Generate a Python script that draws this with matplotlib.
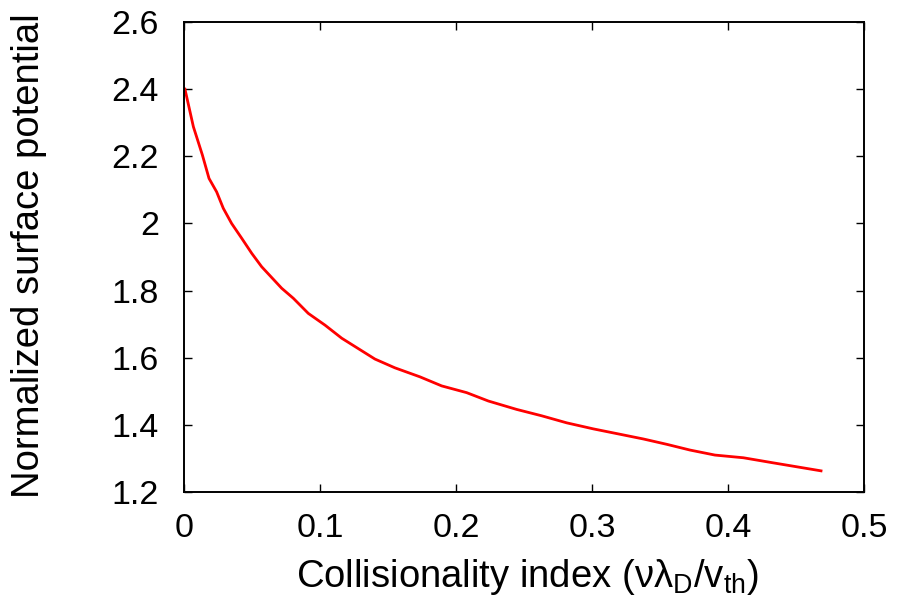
import matplotlib
matplotlib.use('Agg')
import matplotlib.pyplot as plt

plt.rcParams['font.family'] = ['Liberation Sans', 'DejaVu Sans']
plt.rcParams['mathtext.fontset'] = 'custom'
plt.rcParams['mathtext.rm'] = 'Liberation Sans'
plt.rcParams['mathtext.it'] = 'Liberation Sans'

# collisionality index vs normalized surface potential
collisionality = [0.0007, 0.0069, 0.0135, 0.0184, 0.024, 0.0289, 0.035, 0.0424,
                  0.0498, 0.0571, 0.0718, 0.0804, 0.0914, 0.1037, 0.116, 0.1404,
                  0.155, 0.1735, 0.1895, 0.2078, 0.2238, 0.2446, 0.263, 0.2814,
                  0.301, 0.3206, 0.3377, 0.355, 0.372, 0.3904, 0.4113, 0.433, 0.4684]
potential = [2.40, 2.288, 2.204, 2.134, 2.094, 2.045, 2.0, 1.956,
             1.911, 1.871, 1.807, 1.777, 1.732, 1.697, 1.658, 1.596,
             1.570, 1.543, 1.516, 1.496, 1.471, 1.446, 1.427, 1.406,
             1.388, 1.372, 1.358, 1.342, 1.325, 1.310, 1.302, 1.287, 1.263]

xticks = [0, 0.1, 0.2, 0.3, 0.4, 0.5]
xtick_labels = ['0', '0.1', '0.2', '0.3', '0.4', '0.5']
yticks = [1.2, 1.4, 1.6, 1.8, 2.0, 2.2, 2.4, 2.6]
ytick_labels = ['1.2', '1.4', '1.6', '1.8', '2', '2.2', '2.4', '2.6']

fig = plt.figure(figsize=(8.98, 6.08), dpi=100)
ax = fig.add_axes([184/898, 1 - 492/608, 680/898, 470/608])

ax.plot(collisionality, potential, color='#ff0000', linewidth=2.0)

ax.set_xlim(0, 0.5)
ax.set_ylim(1.2, 2.6)
ax.set_xticks(xticks)
ax.set_xticklabels(xtick_labels)
ax.set_yticks(yticks)
ax.set_yticklabels(ytick_labels)

for side in ['top', 'bottom', 'left', 'right']:
    ax.spines[side].set_linewidth(1.4)
ax.tick_params(axis='both', direction='in', length=6, width=1.0, labelsize=24.5,
               top=True, right=True)
ax.tick_params(axis='x', pad=15)
ax.tick_params(axis='y', pad=18)

fig.text(29/898, 1 - 256/608, 'Normalized surface potential', rotation=90,
         ha='center', va='center', fontsize=27.5)
fig.text(527/898, 1 - 577/608,
         r'Collisionality index (νλ$_{\mathrm{D}}$/v$_{\mathrm{th}}$)',
         ha='center', va='center', fontsize=27.5)

plt.savefig('out.png', dpi=100)
